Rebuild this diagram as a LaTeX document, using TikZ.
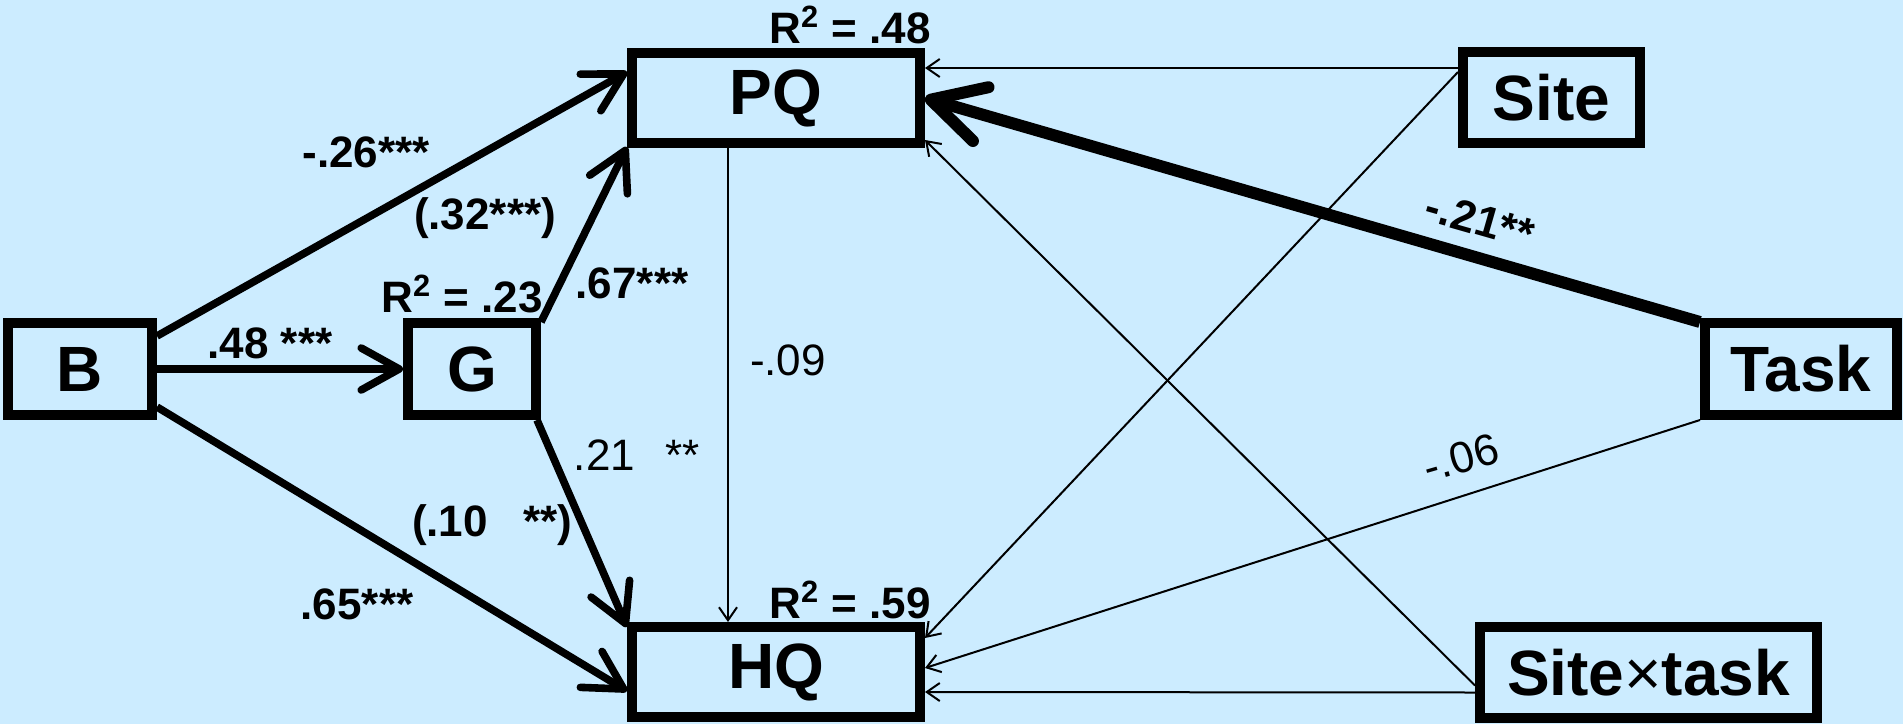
\documentclass[tikz,border=0pt]{standalone}
\usepackage{fontspec}
\setmainfont{Liberation Sans}
\usetikzlibrary{arrows.meta}
\definecolor{bg}{RGB}{204,236,255}
\begin{document}
\begin{tikzpicture}[x=0.5pt,y=-0.5pt,
  box/.style={draw=black, line width=5pt, fill=bg, inner sep=0pt,
    font=\fontsize{32}{36}\selectfont\bfseries},
  lab/.style={font=\fontsize{22}{26}\selectfont\bfseries, inner sep=0pt},
  labr/.style={font=\fontsize{22}{26}\selectfont, inner sep=0pt},
  tarr/.style={line width=3.8pt, -{Straight Barb[length=19pt,width=21pt,round]}},
  bigarr/.style={line width=6pt, -{Straight Barb[length=26pt,width=28pt,round]}},
  thinarr/.style={line width=1pt, -{Straight Barb[length=6.5pt,width=9pt]}}
]
\fill[bg] (0,0) rectangle (1903,724);
\useasboundingbox (0,0) rectangle (1903,724);

\node[box, minimum width=72pt, minimum height=46pt] (B) at (80,369) {B};
\node[box, minimum width=64pt, minimum height=46pt] (G) at (472,369) {G};
\node[box, minimum width=144pt, minimum height=45pt] (PQ) at (776,98) {PQ};
\node[box, minimum width=144pt, minimum height=45pt] (HQ) at (776,672) {HQ};
\node[box, minimum width=88.5pt, minimum height=45.5pt] (Site) at (1551.5,97.5) {Site};
\node[box, minimum width=96pt, minimum height=46pt] (Task) at (1801,369) {Task};
\node[box, minimum width=168.5pt, minimum height=45.5pt] (Stask) at (1648.5,672.5) {Site{\mdseries ×}task};

\draw[tarr] ([yshift=-9pt]B.north east) -- ([yshift=-12pt]PQ.north west);
\draw[tarr] (B.east) -- (G.west);
\draw[tarr] ([yshift=6.5pt]B.south east) -- ([yshift=15.5pt]HQ.south west);
\draw[tarr] ([yshift=-2pt]G.north east) -- ([yshift=0.5pt]PQ.south west);
\draw[tarr] ([xshift=-2pt]G.south east) -- ([yshift=-2.5pt]HQ.north west);
\draw[thinarr] ([xshift=-24pt]PQ.south) -- ([xshift=-24pt]HQ.north);
\draw[thinarr] ([yshift=-10.5pt]Site.north west) -- ([yshift=-10pt]PQ.north east);
\draw[thinarr] ([yshift=-12.5pt]Site.north west) -- ([yshift=-8pt]HQ.north east);
\draw[bigarr] ([yshift=-2pt]Task.north west) -- (PQ.east);
\draw[thinarr] (Task.south west) -- ([yshift=2pt]HQ.east);
\draw[thinarr] ([yshift=-6.5pt]Stask.west) -- ([yshift=4pt]PQ.south east);
\draw[thinarr] ([yshift=-10pt]Stask.west) -- ([yshift=-10pt]HQ.east);

\node[lab] (l1) at (366,152) {-.26***};
\node[lab] (l2) at (485,218) {(.32***)};
\node[lab, anchor=base] (r23) at (462,312) {R\textsuperscript{2} = .23};
\node[lab] (l3) at (270,343) {.48 ***};
\node[lab] (l4) at (632,283) {.67***};
\node[labr] (l5) at (788,360) {-.09};
\node[labr] (l6) at (637,455) {.21\hspace{0.7em}**};
\node[lab] (l7) at (492,525) {(.10\hspace{0.8em}**)};
\node[lab] (l8) at (357,604) {.65***};
\node[lab, anchor=base] (r48) at (850,43) {R\textsuperscript{2} = .48};
\node[lab, anchor=base] (r59) at (850,618) {R\textsuperscript{2} = .59};
\node[lab, rotate=-16] (l9) at (1480,220) {-.21**};
\node[labr, rotate=16] (l10) at (1461,458) {-.06};
\end{tikzpicture}
\end{document}
